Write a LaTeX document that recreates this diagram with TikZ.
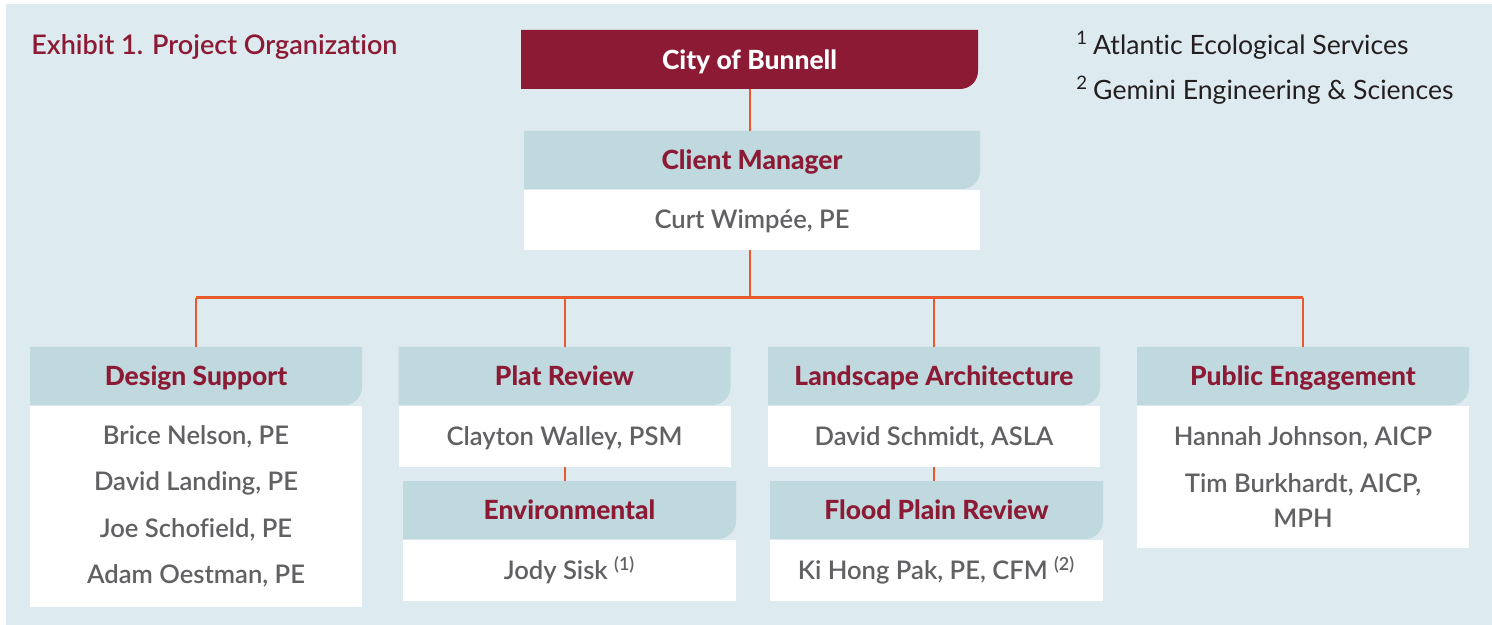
\documentclass[tikz,border=0pt]{standalone}
\usepackage{fontspec}
\setmainfont{Lato}[Ligatures=NoCommon]
\newfontfamily\namefont{Lato Semibold}[Ligatures=NoCommon]
\newfontfamily\tabfont{Lato Heavy}
\usetikzlibrary{positioning}
\definecolor{inkred}{HTML}{8C1A35}
\definecolor{tabblue}{HTML}{BFD9DE}
\definecolor{paneblue}{HTML}{DDEAEF}
\definecolor{linkorange}{HTML}{E85A2C}
\definecolor{namegray}{HTML}{616164}
\definecolor{notegray}{HTML}{231F20}
\tikzset{tab/.style={minimum width=166pt,minimum height=29pt,inner sep=0pt,text height=10.6pt,text depth=1pt,font=\tabfont\fontsize{13.2}{16}\selectfont,text=inkred,path picture={\fill[#1] (path picture bounding box.north west)--(path picture bounding box.north east)--([yshift=9pt]path picture bounding box.south east) .. controls ([yshift=4pt]path picture bounding box.south east) and ([xshift=-4pt]path picture bounding box.south east) .. ([xshift=-9pt]path picture bounding box.south east)--(path picture bounding box.south west)--cycle;}},tab/.default=tabblue,body/.style={fill=white,minimum width=166pt,inner sep=0pt,align=center,text=namegray,font=\namefont\fontsize{12.8}{23.3}\selectfont},oneline/.style={text height=10.6pt,text depth=1.4pt},link/.style={draw=linkorange,line width=1pt},note/.style={anchor=base west,inner sep=0pt,text=notegray,font=\fontsize{13.3}{16}\selectfont}}

\begin{document}
\begin{tikzpicture}[x=0.5pt,y=-0.5pt]
\useasboundingbox (0,0) rectangle (1492,625);
\fill[paneblue] (6,4) rectangle (1492,625);
\node[anchor=base west,inner sep=0pt,text=inkred,font=\namefont\fontsize{13.5}{18}\selectfont] (title) at (31,55) {Exhibit 1. Project Organization};
\node[note] (note1) at (1076,55) {\textsuperscript{1}\hspace{2.5pt}Atlantic Ecological Services};
\node[note] (note2) at (1076,100) {\textsuperscript{2}\hspace{2.5pt}Gemini Engineering \& Sciences};
% top of the chart
\node[tab=inkred,minimum width=228.5pt,minimum height=29.5pt,text=white] (city) at (749.5,59.5) {City of Bunnell};
\node[tab,minimum width=228pt] (cm) at (752,160) {Client Manager};
\node[body,oneline,minimum width=228pt,minimum height=30pt,below=0pt of cm] (cmb) {Curt Wimpée, PE};
% four branches
\node[tab] (ds) at (196,376) {Design Support};
\node[body,minimum height=100.5pt,below=0pt of ds] (dsb) {Brice Nelson, PE\\David Landing, PE\\Joe Schofield, PE\\Adam Oestman, PE};
\node[tab] (pr) at (564.5,376) {Plat Review};
\node[body,oneline,minimum height=30.5pt,below=0pt of pr] (prb) {Clayton Walley, PSM};
\node[tab,minimum width=166.5pt] (env) at (569.5,510) {Environmental};
\node[body,oneline,minimum width=166.5pt,minimum height=30.5pt,below=0pt of env] (envb) {Jody Sisk \textsuperscript{(1)}};
\node[tab] (la) at (934,376) {Landscape Architecture};
\node[body,oneline,minimum height=30.5pt,below=0pt of la] (lab) {David Schmidt, ASLA};
\node[tab,minimum width=166.5pt] (fp) at (936.5,510) {Flood Plain Review};
\node[body,oneline,minimum width=166.5pt,minimum height=30.5pt,below=0pt of fp] (fpb) {Ki Hong Pak, PE, CFM \textsuperscript{(2)}};
\node[tab] (pe) at (1303,376) {Public Engagement};
\node[body,minimum height=71pt,below=0pt of pe] (peb) {Hannah Johnson, AICP\\Tim Burkhardt, AICP,\\[-5.8pt]MPH};
% connectors
\coordinate (bus) at (750,298);
\draw[link] (bus |- city.south) -- (bus |- cm.north);
\draw[link] (bus |- cmb.south) -- (bus);
\draw[link,line width=1.5pt] (ds.north |- bus) -- (pe.north |- bus);
\foreach \c in {ds,pr,la,pe}{\draw[link] (\c.north |- bus) -- (\c.north);}
\draw[link] (prb.south) -- (prb.south |- env.north);
\draw[link] (lab.south) -- (lab.south |- fp.north);
\end{tikzpicture}
\end{document}
